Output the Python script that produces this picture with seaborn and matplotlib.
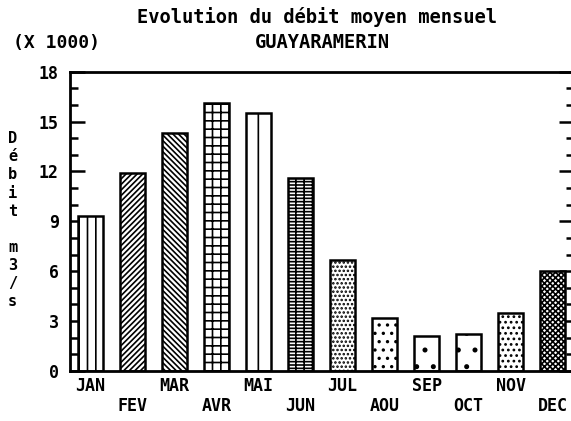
import matplotlib
matplotlib.use("Agg")
import matplotlib.pyplot as plt
import seaborn as sns
from matplotlib.ticker import MultipleLocator

# monthly mean discharge (x 1000 m3/s), Guayaramerin
months = ["JAN", "FEV", "MAR", "AVR", "MAI", "JUN",
          "JUL", "AOU", "SEP", "OCT", "NOV", "DEC"]
debit = [9.3, 11.9, 14.3, 16.1, 15.5, 11.6, 6.7, 3.2, 2.1, 2.2, 3.5, 6.0]

# one fill pattern per month, like the old plotter output
hatches = ["||", "//////", "\\\\\\\\\\\\", "++", "|", "---++",
           "....", "..", ".", ".", "...", "xxxxxx"]

sns.set_style("white")
plt.rcParams["font.family"] = ["DejaVu Sans Mono"]
plt.rcParams["font.weight"] = "bold"
plt.rcParams["text.color"] = "black"
plt.rcParams["xtick.color"] = "black"
plt.rcParams["ytick.color"] = "black"
plt.rcParams["hatch.linewidth"] = 1.2

fig = plt.figure(figsize=(5.71, 4.21), dpi=100)
ax = fig.add_axes([0.1226, 0.1188, 0.8827, 0.711])

sns.barplot(x=months, y=debit, color="white", edgecolor="black",
            linewidth=1.8, width=0.6, ax=ax)
for patch, h in zip(ax.patches, hatches):
    patch.set_hatch(h)

ax.set_xlim(-0.49, 11.51)
ax.set_ylim(0, 18)
ax.yaxis.set_major_locator(MultipleLocator(3))
ax.yaxis.set_minor_locator(MultipleLocator(1))
ax.tick_params(axis="y", which="both", direction="in", left=True, right=True,
               labelsize=12, width=1.8, color="black")
ax.tick_params(axis="y", which="major", length=11, pad=8)
ax.tick_params(axis="y", which="minor", length=6)
ax.tick_params(axis="x", length=0, labelsize=12, pad=4)
for tick in ax.xaxis.get_major_ticks()[1::2]:
    tick.set_pad(19)

for side in ["left", "right", "top", "bottom"]:
    ax.spines[side].set_visible(True)
    ax.spines[side].set_color("black")
    ax.spines[side].set_linewidth(2)

ax.set_xlabel("")
ax.set_ylabel("")

fig.text(0.556, 0.96, "Evolution du débit moyen mensuel", ha="center",
         va="center", fontsize=13.5)
fig.text(0.564, 0.90, "GUAYARAMERIN", ha="center", va="center", fontsize=13.5)
fig.text(0.023, 0.897, "(X 1000)", ha="left", va="center", fontsize=13)
fig.text(0.022, 0.477, "D\né\nb\ni\nt\n\nm\n3\n/\ns", ha="center",
         va="center", fontsize=11, linespacing=1.26)

fig.savefig("out.png", dpi=100)
plt.close(fig)
